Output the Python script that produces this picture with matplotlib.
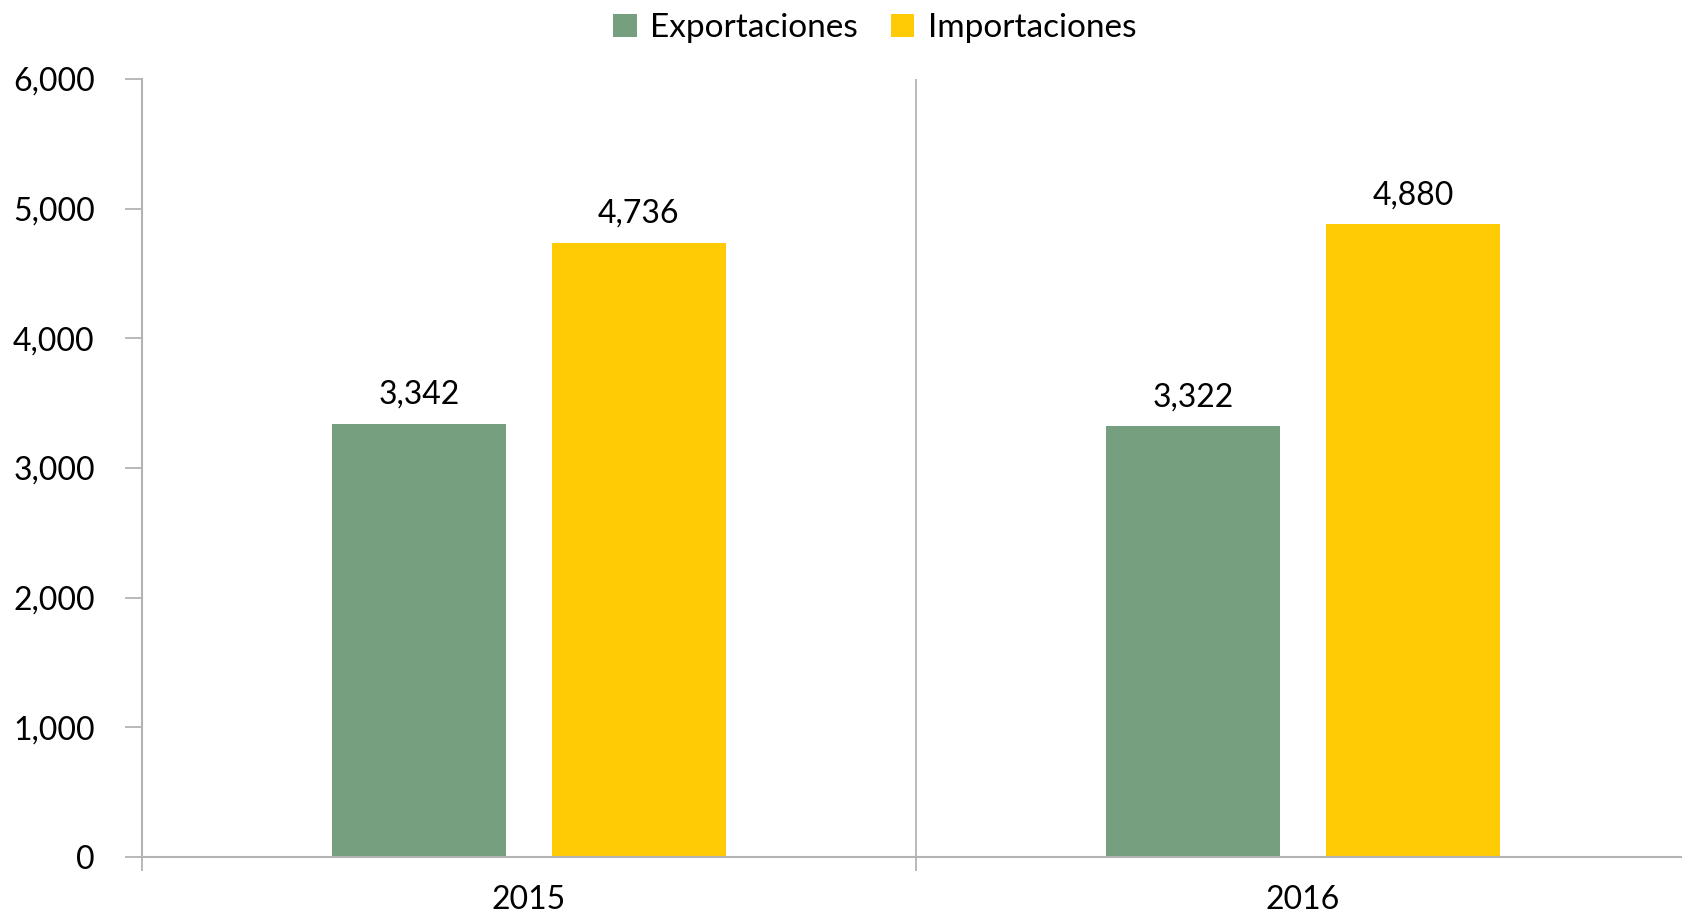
import matplotlib.pyplot as plt
import numpy as np

years = ["2015", "2016"]
exportaciones = [3342, 3322]
importaciones = [4736, 4880]
series_names = ["Exportaciones", "Importaciones"]
y_ticks = [0, 1000, 2000, 3000, 4000, 5000, 6000]

plt.rcParams['font.family'] = ['Lato', 'DejaVu Sans']

green = '#769f7f'
yellow = '#fecb05'
grey = '#b3b3b3'

fig = plt.figure(figsize=(16.82, 9.19), dpi=100)
ax = fig.add_axes([142 / 1682, 1 - 857 / 919, 1548 / 1682, (857 - 79) / 919])

x = np.arange(len(years))
w = 0.224
off = 0.142

b1 = ax.bar(x - off, exportaciones, w, color=green, label=series_names[0], zorder=2)
b2 = ax.bar(x + off, importaciones, w, color=yellow, label=series_names[1], zorder=2)

# etiquetas de datos
for bars in (b1, b2):
    for b in bars:
        ax.annotate(f"{int(b.get_height()):,}", (b.get_x() + b.get_width() / 2, b.get_height()),
                    xytext=(0, 10), textcoords='offset points', ha='center', va='bottom',
                    fontsize=23, color='black')

ax.set_xlim(-0.5, 1.5)
ax.set_ylim(0, 6000)
ax.set_yticks(y_ticks)
ax.set_yticklabels([f"{v:,}" for v in y_ticks], fontsize=23)

# separador entre categorías
ax.axvline(0.5, color=grey, linewidth=1.3, zorder=1)

ax.set_xticks([-0.5, 0.5, 1.5])
ax.set_xticklabels([])
ax.set_xticks(x, minor=True)
ax.set_xticklabels(years, minor=True, fontsize=23)
ax.tick_params(axis='x', which='minor', length=0, pad=20)
ax.tick_params(axis='x', which='major', length=10, color=grey, width=1.3)
ax.tick_params(axis='y', length=12, color=grey, width=1.3, pad=22)

for s in ['top', 'right']:
    ax.spines[s].set_visible(False)
for s in ['left', 'bottom']:
    ax.spines[s].set_color(grey)
    ax.spines[s].set_linewidth(1.5)

fig.legend(loc='upper center', bbox_to_anchor=(0.52, 1.018), ncol=2, frameon=False,
           fontsize=24, handlelength=0.7, handleheight=0.7, handletextpad=0.4, columnspacing=1.0)

fig.savefig('out.png', dpi=100)
